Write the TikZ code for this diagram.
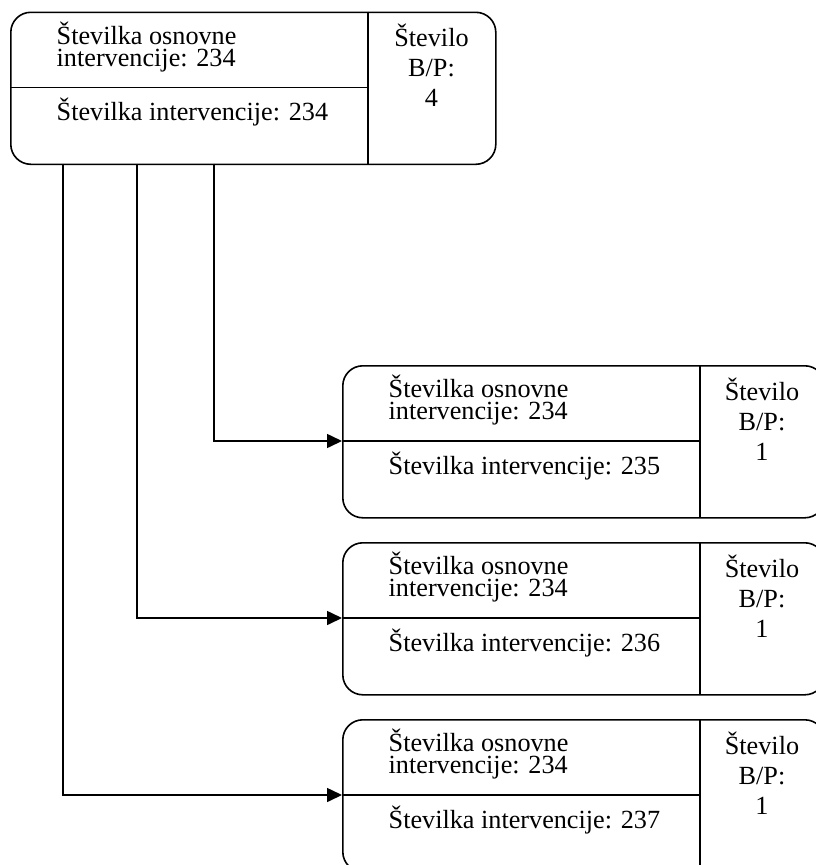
\documentclass[tikz,border=0pt]{standalone}
\usepackage{fontspec}
\setmainfont{Liberation Serif}
\usetikzlibrary{arrows.meta}
\tikzset{
  ibox/.style={draw, line width=1.6pt, rounded corners=20pt, inner sep=0pt, anchor=north west, minimum height=152pt},
  divline/.style={line width=1.6pt},
  conn/.style={line width=1.6pt, -{Triangle[length=15pt, width=14pt]}},
  ltext/.style={anchor=base west, inner sep=0pt, align=left, font=\fontsize{26.2pt}{22pt}\selectfont},
  rtext/.style={anchor=base, inner sep=0pt, font=\fontsize{26.2pt}{22pt}\selectfont},
}
\newcommand{\interbox}[6]{%
  % #1 name, #2 x, #3 y, #4 width, #5 interv. number, #6 B/P number
  \node[ibox, minimum width=#4pt] (#1) at (#2,#3) {};
  \draw[divline] (#2+358,#3) -- (#2+358,#3+152);
  \draw[divline] (#2,#3+76) -- (#2+358,#3+76);
  \coordinate (#1-in) at (#2,#3+76);
  \node[ltext] (#1-t1) at (#2+46.5,#3+54.5) {Številka osnovne\\intervencije: 234};
  \node[ltext] (#1-t3) at (#2+46.5,#3+109) {Številka intervencije: #5};
  \node[rtext] (#1-r1) at ({#2+358+(#4-358)/2},#3+35) {Število};
  \node[rtext] (#1-r2) at ({#2+358+(#4-358)/2},#3+65) {B/P:};
  \node[rtext] (#1-r3) at ({#2+358+(#4-358)/2},#3+95) {#6};
}
\begin{document}
\begin{tikzpicture}[x=1pt,y=-1pt]
  \useasboundingbox (0,0) rectangle (816,865);
  \clip (0,0) rectangle (816,865);
  \interbox{top}{10}{11.5}{485}{234}{4}
  \interbox{b1}{342}{365}{482}{235}{1}
  \interbox{b2}{342}{542}{482}{236}{1}
  \interbox{b3}{342}{719}{482}{237}{1}
  \coordinate (s1) at (214,163.5);
  \coordinate (s2) at (137,163.5);
  \coordinate (s3) at (63,163.5);
  \draw[conn] (s1) |- (b1-in);
  \draw[conn] (s2) |- (b2-in);
  \draw[conn] (s3) |- (b3-in);
\end{tikzpicture}
\end{document}
